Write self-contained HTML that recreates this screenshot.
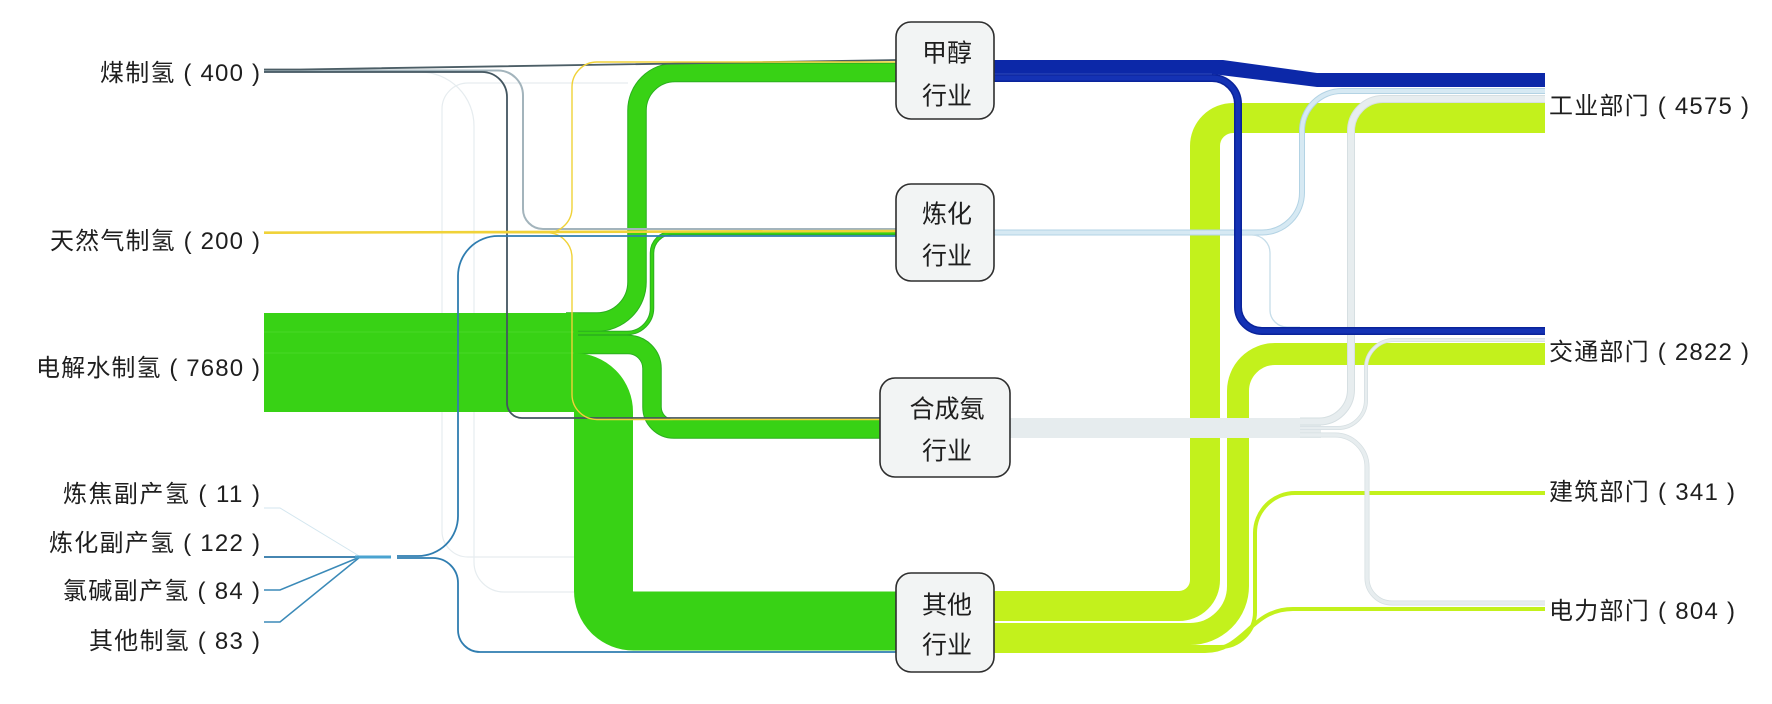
<!DOCTYPE html>
<html><head><meta charset="utf-8"><style>
html,body{margin:0;padding:0;background:#fff;}
svg{display:block;}
text{font-family:"Liberation Sans","Noto Sans CJK SC",sans-serif;fill:#1e1e1e;}
</style></head><body>
<svg width="1772" height="704" viewBox="0 0 1772 704" xmlns="http://www.w3.org/2000/svg">
<rect width="1772" height="704" fill="#fff"/>

<!-- faint lines (left) -->
<g fill="none" stroke="#e6ecef" stroke-width="1.2">
<path d="M 300 72 L 420 72 A 54 54 0 0 1 474 126 L 474 562 A 30 30 0 0 0 504 592 L 574 592"/>
<path d="M 628 83 L 468 83 A 26 26 0 0 0 442 109 L 442 531 A 26 26 0 0 0 468 557 L 574 557"/>
</g>

<!-- right side yellow-green bands (from 其他) -->
<g fill="none" stroke="#c3f11c">
<path d="M 990 606 L 1179 606 A 26 26 0 0 0 1205 580 L 1205 146 A 28 28 0 0 1 1233 118 L 1545 118" stroke-width="30"/>
<path d="M 990 634 L 1190 634 A 48 48 0 0 0 1238 586 L 1238 391 A 37 37 0 0 1 1275 354 L 1545 354" stroke-width="22"/>
<path d="M 990 647 L 1220 647 A 35 35 0 0 0 1255 612 L 1255 533 A 40 40 0 0 1 1295 493 L 1545 493" stroke-width="4"/>
<path d="M 990 651 L 1205 651 C 1245 651 1250 609 1293 609 L 1545 609" stroke-width="4"/>
</g>

<!-- 炼化 light blue outputs -->
<g fill="none">
<path d="M 990 232.5 L 1262 232.5 A 40 40 0 0 0 1302 192.5 L 1302 131 A 40 40 0 0 1 1342 91 L 1545 91" stroke="#b3d3e4" stroke-width="6"/>
<path d="M 990 232.5 L 1262 232.5 A 40 40 0 0 0 1302 192.5 L 1302 131 A 40 40 0 0 1 1342 91 L 1545 91" stroke="#d6e9f3" stroke-width="4"/>
<path d="M 1238 235 L 1252 235 A 18 18 0 0 1 1270 253 L 1270 310 A 17 17 0 0 0 1287 327 L 1300 327" stroke="#c6dde9" stroke-width="1.3"/>
</g>

<!-- 合成氨 gray outputs -->
<g fill="none" stroke="#d6dfe2">
<rect x="1009" y="418" width="312" height="20" fill="#e6ecee" stroke="none"/>
<path d="M 1300 421.5 L 1319 421.5 A 32 32 0 0 0 1351 389.5 L 1351 131 A 32 32 0 0 1 1383 99 L 1545 99" stroke-width="8"/>
<path d="M 1300 428 L 1338 428 A 28 28 0 0 0 1366 400 L 1366 368 A 28 28 0 0 1 1394 340 L 1545 340" stroke-width="4"/>
<path d="M 1300 435 L 1335 435 A 32 32 0 0 1 1367 467 L 1367 578 A 25 25 0 0 0 1392 603 L 1545 603" stroke-width="5"/>
</g>
<g fill="none" stroke="#e7edef">
<path d="M 1300 421.5 L 1319 421.5 A 32 32 0 0 0 1351 389.5 L 1351 131 A 32 32 0 0 1 1383 99 L 1545 99" stroke-width="6"/>
<path d="M 1300 428 L 1338 428 A 28 28 0 0 0 1366 400 L 1366 368 A 28 28 0 0 1 1394 340 L 1545 340" stroke-width="2.5"/>
<path d="M 1300 435 L 1335 435 A 32 32 0 0 1 1367 467 L 1367 578 A 25 25 0 0 0 1392 603 L 1545 603" stroke-width="3.5"/>
</g>

<!-- 甲醇 dark blue outputs -->
<path d="M 990 78 L 1212 78 A 26 26 0 0 1 1238 104 L 1238 307 A 24 24 0 0 0 1262 331 L 1545 331" fill="none" stroke="#0a239a" stroke-width="8"/>
<path d="M 990 78 L 1212 78 A 26 26 0 0 1 1238 104 L 1238 307 A 24 24 0 0 0 1262 331 L 1545 331" fill="none" stroke="#1432b4" stroke-width="5"/>
<polygon points="990,60 1223,60 1317,73 1545,73 1545,87 1317,87 1212,74 990,74" fill="#0c28a8"/>
<line x1="990" y1="74" x2="1212" y2="74" stroke="#3b57c4" stroke-width="0.8"/>

<!-- green block and bands (left) -->
<g>
<g fill="none" stroke="#2aae1e">
<path d="M 566 322 L 597 322 A 40 40 0 0 0 637 282 L 637 110.5 A 38 38 0 0 1 675 72.5 L 897 72.5" stroke-width="19.5"/>
<path d="M 566 344.5 L 628 344.5 A 24 24 0 0 1 652 368.5 L 652 407 A 22 22 0 0 0 674 429 L 882 429" stroke-width="19.5"/>
<path d="M 566 333 L 627 333 A 25 25 0 0 0 652 308 L 652 253 A 20 20 0 0 1 672 233 L 897 233" stroke-width="4.5"/>
</g>
<rect x="264" y="313" width="314" height="99" fill="#38d215"/>
<g fill="none" stroke="#38d215">
<path d="M 566 322 L 597 322 A 40 40 0 0 0 637 282 L 637 110.5 A 38 38 0 0 1 675 72.5 L 897 72.5" stroke-width="17.5"/>
<path d="M 566 344.5 L 628 344.5 A 24 24 0 0 1 652 368.5 L 652 407 A 22 22 0 0 0 674 429 L 882 429" stroke-width="17.5"/>
<path d="M 566 333 L 627 333 A 25 25 0 0 0 652 308 L 652 253 A 20 20 0 0 1 672 233 L 897 233" stroke-width="2.5"/>
<path d="M 560 382.5 L 574 382.5 A 29.5 29.5 0 0 1 603.5 412 L 603.5 591 A 30 30 0 0 0 633.5 621 L 898 621" stroke-width="59"/>
</g>
<line x1="264" y1="332" x2="574" y2="332" stroke="#5fe03e" stroke-width="0.8" opacity="0.6"/>
<line x1="264" y1="353" x2="574" y2="353" stroke="#5fe03e" stroke-width="0.8" opacity="0.6"/>
</g>

<!-- 煤制氢 lines -->
<g fill="none" stroke-linecap="butt">
<path d="M 264 70.5 L 498 70.5 A 25 25 0 0 1 523 95.5 L 523 209 A 20 20 0 0 0 543 229 L 897 229" stroke="#a3b4bc" stroke-width="2"/>
<path d="M 264 72 L 482 72 A 25 25 0 0 1 507 97 L 507 403 A 15 15 0 0 0 522 418 L 882 418" stroke="#435660" stroke-width="1.8"/>
<path d="M 264 69.5 L 300 69.5 L 897 60" stroke="#4c5e66" stroke-width="1.8"/>
</g>

<!-- 天然气 yellow lines -->
<g fill="none" stroke="#f0d238" stroke-width="1.6">
<path d="M 264 232.7 L 547 232.7 A 25 25 0 0 0 572 207.7 L 572 87 A 25 25 0 0 1 597 62 L 897 62" stroke-width="1.4"/>
<path d="M 530 232.7 L 547 232.7 A 25 25 0 0 1 572 257.7 L 572 394.5 A 25 25 0 0 0 597 419.5 L 882 419.5" stroke-width="1.4"/>
<path d="M 264 232.7 L 897 231" stroke-width="2.6"/>
</g>

<!-- byproduct blue lines -->
<g fill="none" stroke-linecap="butt">
<path d="M 264 508 L 280 508 L 360 556.5" stroke="#d3e6ef" stroke-width="1"/>
<path d="M 264 590 L 280 590 L 360 557" stroke="#3b8ab8" stroke-width="1.5"/>
<path d="M 264 622 L 280 622 L 360 557" stroke="#3b8ab8" stroke-width="1.5"/>
<path d="M 264 557 L 391 557" stroke="#2b74a6" stroke-width="1.8"/>
<path d="M 355 557 L 391 557" stroke="#4aa3d0" stroke-width="3"/>
<path d="M 397 556 L 418 556 A 40 40 0 0 0 458 516 L 458 276 A 40 40 0 0 1 498 236 L 897 236" stroke="#2f7db0" stroke-width="1.8"/>
<path d="M 397 558 L 433 558 A 25 25 0 0 1 458 583 L 458 630 A 22 22 0 0 0 480 652 L 898 652" stroke="#2f7db0" stroke-width="1.8"/>
</g>

<!-- middle boxes -->
<g fill="#f2f4f4" stroke="#2e2e2e" stroke-width="1.6">
<rect x="896" y="22" width="98" height="97" rx="15"/>
<rect x="896" y="184" width="98" height="97" rx="15"/>
<rect x="880" y="378" width="130" height="99" rx="15"/>
<rect x="896" y="573" width="98" height="99" rx="15"/>
</g>
<g font-size="25" text-anchor="middle">
<text x="947" y="61.5">甲醇</text>
<text x="947" y="104.5">行业</text>
<text x="947" y="222.5">炼化</text>
<text x="947" y="264.5">行业</text>
<text x="947" y="417.5">合成氨</text>
<text x="947" y="459.5">行业</text>
<text x="947" y="613.5">其他</text>
<text x="947" y="653.5">行业</text>
</g>

<!-- left labels -->
<g font-size="24" text-anchor="end">
<text x="260" y="81" textLength="160">煤制氢 ( 400 )</text>
<text x="260" y="249" textLength="210">天然气制氢 ( 200 )</text>
<text x="260" y="376" textLength="224">电解水制氢 ( 7680 )</text>
<text x="260" y="502" textLength="197">炼焦副产氢 ( 11 )</text>
<text x="260" y="551" textLength="211">炼化副产氢 ( 122 )</text>
<text x="260" y="599" textLength="197">氯碱副产氢 ( 84 )</text>
<text x="260" y="649" textLength="171">其他制氢 ( 83 )</text>
</g>

<!-- right labels -->
<g font-size="24" text-anchor="start">
<text x="1549" y="114" textLength="200">工业部门 ( 4575 )</text>
<text x="1549" y="360" textLength="200">交通部门 ( 2822 )</text>
<text x="1549" y="500" textLength="186">建筑部门 ( 341 )</text>
<text x="1549" y="619" textLength="186">电力部门 ( 804 )</text>
</g>
</svg>
</body></html>
